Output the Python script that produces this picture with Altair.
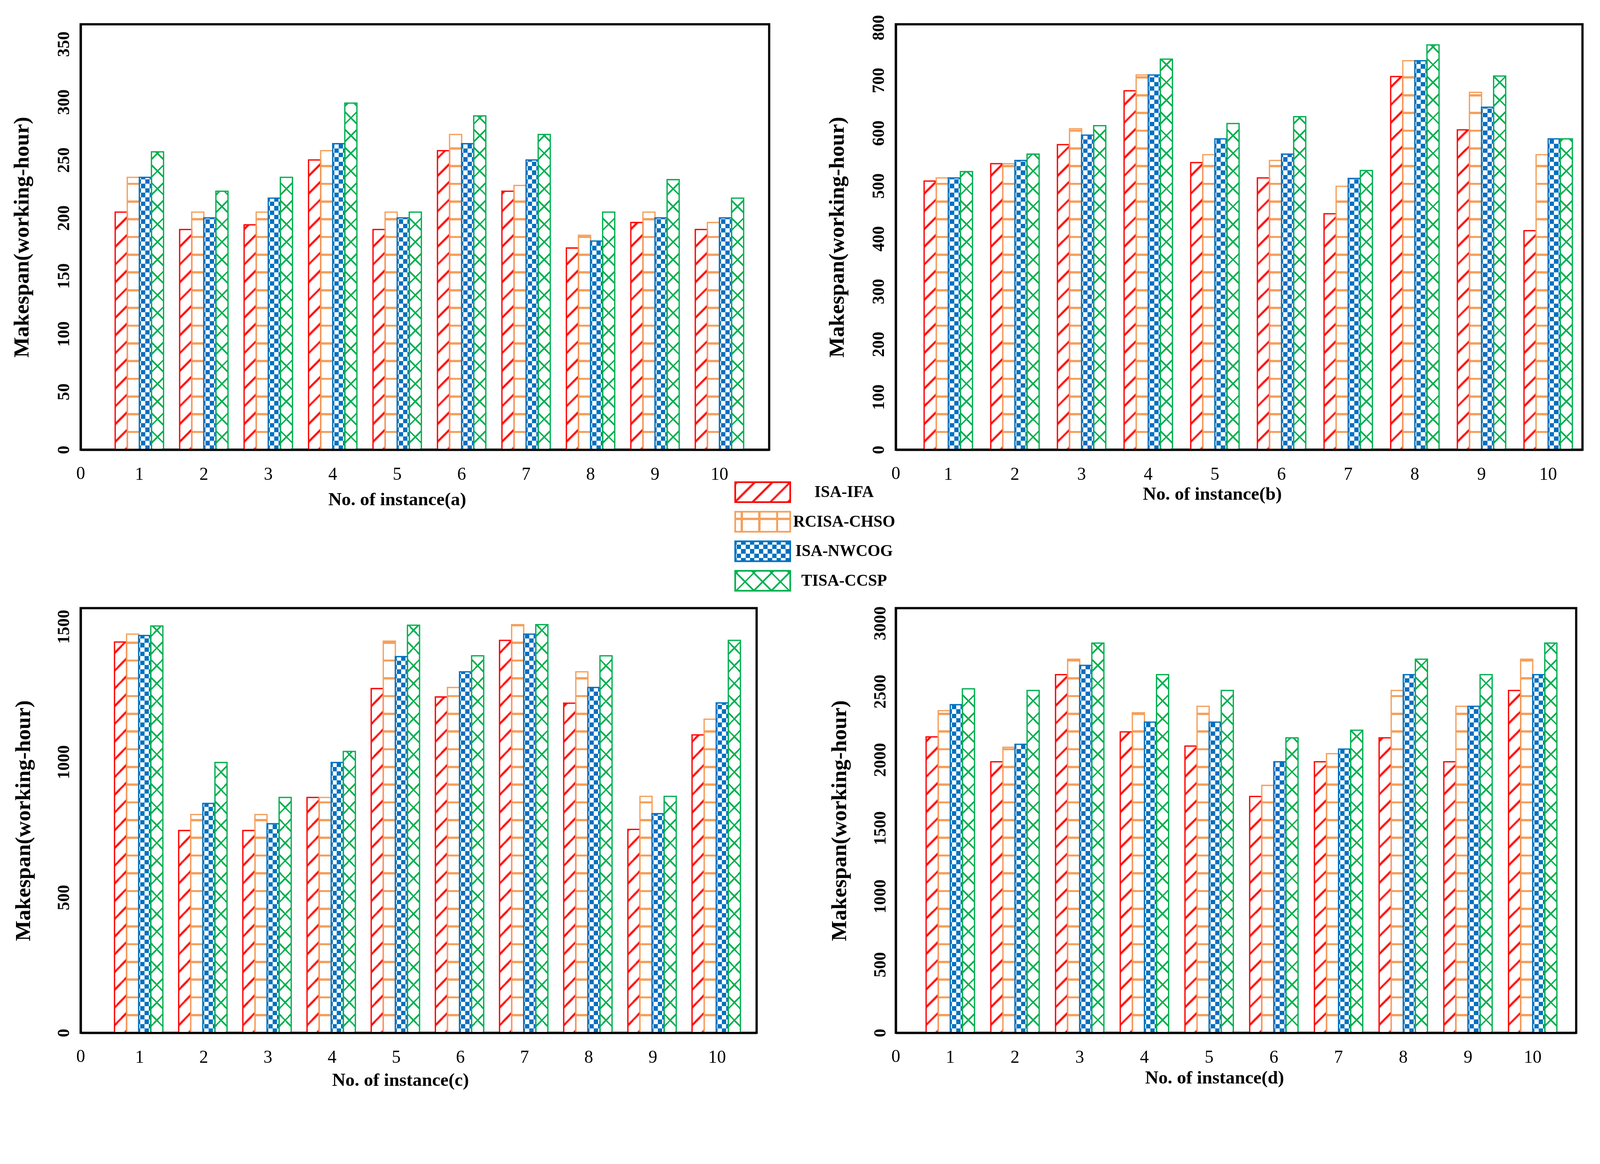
import altair as alt
import pandas as pd

# ---------------- data ----------------
instances = [str(i) for i in range(1, 11)]
series = ["ISA-IFA", "RCISA-CHSO", "ISA-NWCOG", "TISA-CCSP"]

a_isa_ifa = [205, 190, 194, 250, 190, 258, 223, 174, 196, 190]
a_rcisa_chso = [235, 205, 205, 258, 205, 272, 228, 185, 205, 196]
a_isa_nwcog = [235, 200, 217, 264, 200, 264, 250, 180, 200, 200]
a_tisa_ccsp = [257, 223, 235, 299, 205, 288, 272, 205, 233, 217]

b_isa_ifa = [509, 542, 578, 680, 544, 515, 447, 707, 606, 415]
b_rcisa_chso = [515, 542, 608, 710, 559, 548, 499, 737, 677, 559]
b_isa_nwcog = [515, 548, 596, 710, 589, 560, 514, 737, 649, 589]
b_tisa_ccsp = [527, 560, 614, 740, 618, 631, 529, 767, 708, 589]

c_isa_ifa = [1443, 747, 747, 869, 1271, 1240, 1449, 1217, 751, 1100]
c_rcisa_chso = [1472, 806, 806, 869, 1446, 1275, 1507, 1333, 873, 1158]
c_isa_nwcog = [1467, 847, 772, 998, 1389, 1333, 1472, 1275, 809, 1218]
c_tisa_ccsp = [1502, 998, 869, 1039, 1505, 1392, 1507, 1392, 873, 1449]

d_isa_ifa = [2167, 1985, 2623, 2204, 2100, 1731, 1985, 2160, 1985, 2507]
d_rcisa_chso = [2359, 2091, 2736, 2344, 2391, 1812, 2044, 2507, 2391, 2736]
d_isa_nwcog = [2403, 2113, 2691, 2275, 2275, 1985, 2078, 2623, 2391, 2623]
d_tisa_ccsp = [2519, 2507, 2854, 2623, 2507, 2160, 2216, 2736, 2623, 2854]

ticks_a = [0, 50, 100, 150, 200, 250, 300, 350]
ticks_b = [0, 100, 200, 300, 400, 500, 600, 700, 800]
ticks_c = [0, 500, 1000, 1500]
ticks_d = [0, 500, 1000, 1500, 2000, 2500, 3000]

y_title = "Makespan(working-hour)"

PANELS = {
    "a": ([a_isa_ifa, a_rcisa_chso, a_isa_nwcog, a_tisa_ccsp], ticks_a, 367),
    "b": ([b_isa_ifa, b_rcisa_chso, b_isa_nwcog, b_tisa_ccsp], ticks_b, 806),
    "c": ([c_isa_ifa, c_rcisa_chso, c_isa_nwcog, c_tisa_ccsp], ticks_c, 1568),
    "d": ([d_isa_ifa, d_rcisa_chso, d_isa_nwcog, d_tisa_ccsp], ticks_d, 3110),
}

# ---------------- styling / layout ----------------
FONT = "Liberation Serif"
RED, ORANGE, BLUE, GREEN = "#FF0000", "#F5A05C", "#0070C0", "#00B050"
PINK = "#FFB0B0"
WHITE = "#FFFFFF"
BLACK = "#000000"
CLEAR = "rgba(255,255,255,0)"
COLORS = [RED, ORANGE, BLUE, GREEN]

LAYOUT = {
    "a": dict(W=1865, H=1152, pi=0.25, po=0.466, align=0.575, tx=857, ty=135, ytx=-160, lp=22),
    "b": dict(W=1860, H=1152, pi=0.276, po=0.289, align=0.735, tx=857, ty=120, ytx=-160, lp=22),
    "c": dict(W=1831, H=1150, pi=0.22, po=0.377, align=0.70, tx=866, ty=128, ytx=-156, lp=22),
    "d": dict(W=1843, H=1150, pi=0.254, po=0.384, align=0.61, tx=863, ty=122, ytx=-153, lp=18),
}
COL_SPACING = 343
ROW_SPACING = 60

RED_SEGS = [(PINK, 3), (RED, 6), (PINK, 3), (WHITE, 36)]
ORANGE_SEGS = [(ORANGE, 6), (WHITE, 42)]
GREEN_SLASH = [(GREEN, 6), (WHITE, 42)]
GREEN_BSLASH = [(GREEN, 6), (CLEAR, 42)]
BLUE_COLS = [(BLACK, 12), (WHITE, 12)]
BLUE_ROWS = [(WHITE, 12), (CLEAR, 12)]


def seg_stops(L, segs, phase=0.0):
    P = sum(l for _, l in segs)
    s = -(phase % P)
    pieces = []
    while s < L:
        for c, l in segs:
            a0, b0 = s, s + l
            s = b0
            lo, hi = max(a0, 0.0), min(b0, L)
            if hi > lo:
                if pieces and pieces[-1][2] == c:
                    pieces[-1][1] = hi
                else:
                    pieces.append([lo, hi, c])
            if s >= L:
                break
    stops = []
    for lo, hi, c in pieces:
        stops.append(alt.GradientStop(color=c, offset=round(lo / L, 5)))
        stops.append(alt.GradientStop(color=c, offset=round(hi / L, 5)))
    return stops


def g_lin(stops, x1, y1, x2, y2):
    return alt.LinearGradient(gradient="linear", stops=stops, x1=x1, y1=y1, x2=x2, y2=y2)


def g_up(h, segs, phase=0.0):
    return g_lin(seg_stops(h, segs, phase), 0, 1, 0, 0)


def g_right(w, segs, phase=0.0):
    return g_lin(seg_stops(w, segs, phase), 0, 0, 1, 0)


def g_slash(w, h, segs, phase=0.0):
    L = w + h
    b = L / (w * w + h * h)
    return g_lin(seg_stops(L, segs, phase), 1, 1, 1 - b * w, 1 - b * h)


def g_bslash(w, h, segs, phase=0.0):
    L = w + h
    b = L / (w * w + h * h)
    return g_lin(seg_stops(L, segs, phase), 0, 1, b * w, 1 - b * h)


def bar_layer(filt, enc, **mark):
    return alt.Chart().transform_filter(filt).mark_bar(**mark).encode(**enc)


def stroke_scale():
    return alt.Scale(domain=series, range=COLORS)


def make_panel(key):
    vals, ticks, ymax = PANELS[key]
    cfg = LAYOUT[key]
    W, H = cfg["W"], cfg["H"]
    rows = []
    for s_name, arr in zip(series, vals):
        for inst, v in zip(instances, arr):
            rows.append({"inst": inst, "series": s_name, "value": v})
    df = pd.DataFrame(rows)

    step = W / (10 - cfg["pi"] + 2 * cfg["po"])
    w = step * (1 - cfg["pi"]) / 4

    x_enc = alt.X(
        "inst:N",
        scale=alt.Scale(domain=instances, paddingInner=cfg["pi"], paddingOuter=cfg["po"], align=cfg["align"]),
        axis=alt.Axis(
            title=f"No. of instance({key})", labelAngle=0, labelFont=FONT, labelFontSize=48,
            labelFontWeight="normal", labelColor=BLACK, labelPadding=43,
            titleFont=FONT, titleFontSize=50, titleFontWeight="bold", titleColor=BLACK,
            titleX=cfg["tx"], titleY=cfg["ty"], titleAlign="center", titleBaseline="middle",
            ticks=False, grid=False, domain=True, domainColor=BLACK, domainWidth=6, zindex=1,
        ),
    )
    xo_enc = alt.XOffset("series:N", scale=alt.Scale(domain=series, paddingInner=0, paddingOuter=0))
    y_enc = alt.Y(
        "value:Q",
        scale=alt.Scale(domain=[0, ymax], nice=False, zero=True),
        axis=alt.Axis(
            title=y_title, values=ticks, format="d", labelAngle=270, labelAlign="center",
            labelBaseline="bottom",
            labelPadding=cfg["lp"], labelFont=FONT, labelFontSize=46, labelFontWeight="bold",
            labelColor=BLACK, labelOverlap=False, labelFlush=False,
            titleFont=FONT, titleFontSize=59, titleFontWeight="bold", titleColor=BLACK, titleAngle=270,
            titleX=cfg["ytx"], titleY=H / 2, titleAlign="center", titleBaseline="middle",
            ticks=False, grid=False, domain=True, domainColor=BLACK, domainWidth=6, zindex=1,
        ),
    )
    enc = dict(x=x_enc, xOffset=xo_enc, y=y_enc)

    def hpx(v):
        return v / ymax * H

    def f_item(s, i):
        return (alt.datum.series == s) & (alt.datum.inst == i)

    layers = []
    s_ifa, s_chso, s_nwcog, s_ccsp = series
    for i, v in zip(instances, vals[0]):
        layers.append(bar_layer(f_item(s_ifa, i), enc, fill=g_slash(w, hpx(v), RED_SEGS), strokeWidth=0))
    for i, v in zip(instances, vals[1]):
        layers.append(bar_layer(f_item(s_chso, i), enc, fill=g_up(hpx(v), ORANGE_SEGS, 3), strokeWidth=0))
    layers.append(bar_layer(alt.datum.series == s_nwcog, enc, fill=g_right(w, BLUE_COLS, 20), strokeWidth=0))
    for i, v in zip(instances, vals[2]):
        layers.append(bar_layer(f_item(s_nwcog, i), enc, fill=g_up(hpx(v), BLUE_ROWS), strokeWidth=0,
                                blend="difference"))
    layers.append(bar_layer(alt.datum.series == s_nwcog, enc, fill=BLUE, strokeWidth=0, blend="lighten"))
    for i, v in zip(instances, vals[3]):
        layers.append(bar_layer(f_item(s_ccsp, i), enc, fill=g_slash(w, hpx(v), GREEN_SLASH), strokeWidth=0))
        layers.append(bar_layer(f_item(s_ccsp, i), enc, fill=g_bslash(w, hpx(v), GREEN_BSLASH), strokeWidth=0))
    layers.append(
        alt.Chart().mark_bar(filled=False, strokeWidth=3.5).encode(
            x=x_enc, xOffset=xo_enc, y=y_enc,
            stroke=alt.Stroke("series:N", scale=stroke_scale(), legend=None),
        )
    )
    zero = alt.Chart(pd.DataFrame({"t": ["0"]})).mark_text(
        font=FONT, fontSize=48, align="center", baseline="middle", color=BLACK
    ).encode(x=alt.value(0), y=alt.value(H + 65), text="t:N")
    layers.append(zero)

    return alt.layer(*layers, data=df).properties(width=W, height=H)


def make_legend():
    ldf = pd.DataFrame({"series": series})
    LW, LH = 149, 54
    LX0, LX1 = 1773, 1922
    y_leg = alt.Y("series:N", scale=alt.Scale(domain=series, range=[28, 322], paddingInner=0.325, paddingOuter=0),
                  axis=None)
    enc = dict(y=y_leg, x=alt.value(LX0), x2=alt.value(LX1))
    s_ifa, s_chso, s_nwcog, s_ccsp = series
    L = []
    L.append(bar_layer(alt.datum.series == s_ifa, enc, fill=g_slash(LW, LH, RED_SEGS), strokeWidth=0))
    L.append(bar_layer(alt.datum.series == s_chso, enc, fill=g_right(LW, ORANGE_SEGS, 33.5), strokeWidth=0))
    L.append(bar_layer(alt.datum.series == s_chso, enc, fill=g_up(LH, [(ORANGE, 6), (CLEAR, 42)], 16.5),
                       strokeWidth=0))
    L.append(bar_layer(alt.datum.series == s_nwcog, enc, fill=g_right(LW, BLUE_COLS, 20), strokeWidth=0))
    L.append(bar_layer(alt.datum.series == s_nwcog, enc, fill=g_up(LH, BLUE_ROWS, 3), strokeWidth=0,
                       blend="difference"))
    L.append(bar_layer(alt.datum.series == s_nwcog, enc, fill=BLUE, strokeWidth=0, blend="lighten"))
    L.append(bar_layer(alt.datum.series == s_ccsp, enc, fill=g_slash(LW, LH, GREEN_SLASH), strokeWidth=0))
    L.append(bar_layer(alt.datum.series == s_ccsp, enc, fill=g_bslash(LW, LH, GREEN_BSLASH), strokeWidth=0))
    L.append(alt.Chart().mark_bar(filled=False, strokeWidth=4.5).encode(
        y=y_leg, x=alt.value(LX0), x2=alt.value(LX1),
        stroke=alt.Stroke("series:N", scale=stroke_scale(), legend=None)))
    L.append(alt.Chart().mark_text(font=FONT, fontSize=44, fontWeight="bold", align="center",
                                   baseline="middle", color=BLACK).encode(
        y=y_leg, x=alt.value(2068), text="series:N"))
    return alt.layer(*L, data=ldf).properties(width=100, height=309,
                                               view=alt.ViewBackground(strokeOpacity=0))


def make_spacer():
    return alt.Chart(pd.DataFrame({"t": [""]})).mark_text().encode(text="t:N").properties(
        width=10, height=10, view=alt.ViewBackground(strokeOpacity=0))


chart = (
    alt.concat(
        make_panel("a"), make_panel("b"),
        make_legend(), make_spacer(),
        make_panel("c"), make_panel("d"),
        columns=2, spacing=alt.RowColnumber(row=ROW_SPACING, column=COL_SPACING),
        bounds="flush",
    )
    .resolve_scale(x="independent", y="independent")
    .properties(padding={"left": 18, "top": -53, "right": 36, "bottom": -62}, background="white")
    .configure_view(stroke=BLACK, strokeWidth=6)
)

chart.save("out.html", embed_options={"renderer": "svg", "actions": False})
